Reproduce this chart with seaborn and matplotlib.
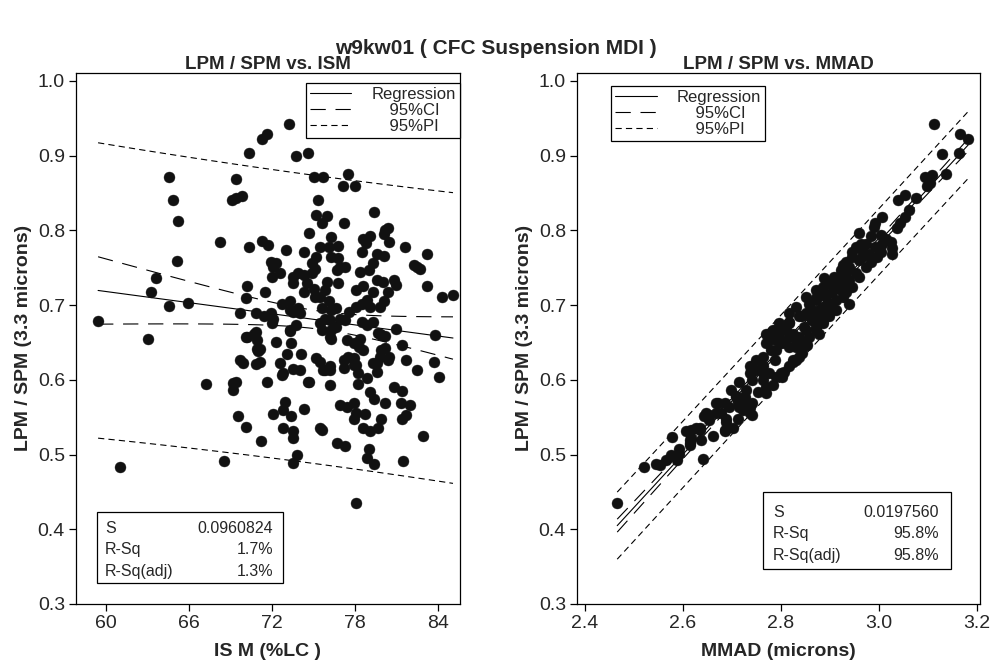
import numpy as np
import pandas as pd
import seaborn as sns
import matplotlib
matplotlib.use("Agg")
import matplotlib.pyplot as plt
from matplotlib.lines import Line2D
from matplotlib.patches import Rectangle

# left panel: ISM (%LC) vs LPM/SPM ratio
ism = [59.4, 61.0, 63.0, 63.2, 63.6, 64.5, 65.9, 65.1, 64.5, 64.8, 65.2, 67.2, 68.2, 68.5, 69.4, 69.1, 69.4, 69.8,
       70.3, 71.3, 71.6, 73.2, 73.7, 74.6, 75.0, 75.7, 77.5, 77.1, 78.0, 75.3, 75.2, 76.0, 75.6, 77.2, 79.4, 80.2,
       80.4, 80.1, 74.7, 76.3, 76.8, 70.3, 71.3, 71.7, 73.0, 74.3, 80.5, 78.6, 79.1, 78.5, 78.8, 81.6, 83.2, 82.5,
       82.7, 83.2, 84.3, 85.1, 83.8, 81.0, 81.4, 81.7, 83.7, 69.7, 70.1, 70.2, 70.8, 71.5, 70.2, 70.8, 70.9, 71.1,
       69.7, 69.9, 70.8, 71.4, 71.9, 72.0, 72.3, 72.7, 73.3, 73.3, 73.3, 73.7, 73.4, 73.1, 74.1, 72.6, 73.5, 75.2,
       75.5, 76.2, 78.4, 78.3, 79.8, 79.9, 79.9, 80.2, 79.8, 80.5, 79.3, 75.5, 76.1, 75.2, 74.9, 75.1, 76.3, 76.8,
       76.9, 77.3, 76.7, 79.6, 80.1, 79.3, 79.0, 78.4, 82.3, 79.6, 80.0, 80.8, 81.0, 80.4, 79.3, 78.1, 78.6, 76.8,
       76.0, 75.8, 75.5, 75.0, 75.1, 74.3, 74.5, 74.3, 73.5, 73.9, 73.5, 74.9, 71.9, 72.3, 72.0, 72.6, 73.9, 73.5,
       74.0, 75.6, 76.1, 76.3, 76.6, 75.8, 76.2, 76.9, 77.3, 77.6, 78.1, 78.5, 78.9, 79.1, 78.5, 78.9, 79.3, 79.7,
       80.2, 79.8, 80.1, 72.1, 75.5, 75.6, 76.3, 76.3, 76.6, 77.4, 73.3, 76.2, 77.9, 78.6, 72.8, 74.0, 74.7, 71.6,
       71.1, 75.8, 76.2, 76.2, 77.2, 77.2, 77.5, 77.9, 78.1, 78.2, 78.9, 78.2, 79.6, 79.6, 79.1, 79.4, 80.2, 80.8,
       81.4, 81.3, 82.0, 81.7, 81.4, 79.9, 79.7, 78.6, 79.1, 77.9, 78.1, 78.7, 76.9, 77.4, 77.9, 82.9, 72.9, 72.8,
       73.4, 72.1, 74.3, 72.8, 73.5, 73.5, 75.5, 75.6, 76.7, 77.3, 79.0, 78.9, 79.4, 81.5, 71.2, 73.8, 73.5, 78.1,
       82.5, 84.1, 70.1, 70.7, 70.9, 71.0, 69.2, 69.4, 69.2, 69.5, 70.1, 72.1, 72.7, 74.6, 75.7, 77.9, 80.4]
ratio_ism = [0.679, 0.483, 0.655, 0.717, 0.736, 0.699, 0.703, 0.759, 0.871, 0.841, 0.812, 0.595, 0.784, 0.492, 0.869,
             0.841, 0.843, 0.846, 0.903, 0.922, 0.929, 0.943, 0.900, 0.903, 0.872, 0.872, 0.876, 0.859, 0.859, 0.841,
             0.821, 0.819, 0.810, 0.810, 0.824, 0.800, 0.803, 0.795, 0.797, 0.791, 0.779, 0.778, 0.786, 0.781, 0.774,
             0.771, 0.784, 0.788, 0.792, 0.771, 0.783, 0.778, 0.769, 0.751, 0.749, 0.726, 0.711, 0.714, 0.660, 0.668,
             0.647, 0.627, 0.624, 0.690, 0.709, 0.726, 0.690, 0.717, 0.657, 0.664, 0.641, 0.641, 0.626, 0.623, 0.621,
             0.685, 0.690, 0.676, 0.650, 0.702, 0.705, 0.693, 0.667, 0.673, 0.649, 0.635, 0.634, 0.622, 0.615, 0.629,
             0.624, 0.618, 0.655, 0.644, 0.662, 0.660, 0.640, 0.642, 0.631, 0.631, 0.622, 0.778, 0.778, 0.765, 0.756,
             0.749, 0.765, 0.763, 0.751, 0.751, 0.747, 0.769, 0.766, 0.756, 0.747, 0.745, 0.754, 0.734, 0.731, 0.734,
             0.727, 0.717, 0.717, 0.720, 0.726, 0.729, 0.731, 0.720, 0.711, 0.722, 0.711, 0.740, 0.729, 0.718, 0.738,
             0.743, 0.729, 0.743, 0.758, 0.756, 0.738, 0.743, 0.696, 0.691, 0.689, 0.696, 0.705, 0.693, 0.696, 0.682,
             0.680, 0.682, 0.680, 0.691, 0.698, 0.702, 0.707, 0.698, 0.678, 0.673, 0.678, 0.663, 0.659, 0.698, 0.705,
             0.682, 0.676, 0.667, 0.667, 0.655, 0.671, 0.653, 0.665, 0.658, 0.649, 0.640, 0.609, 0.613, 0.597, 0.597,
             0.624, 0.613, 0.613, 0.593, 0.627, 0.616, 0.631, 0.629, 0.620, 0.609, 0.602, 0.595, 0.622, 0.611, 0.584,
             0.575, 0.569, 0.590, 0.585, 0.569, 0.566, 0.553, 0.547, 0.547, 0.535, 0.535, 0.531, 0.548, 0.555, 0.554,
             0.566, 0.563, 0.569, 0.525, 0.571, 0.560, 0.552, 0.554, 0.561, 0.535, 0.531, 0.522, 0.535, 0.533, 0.516,
             0.511, 0.508, 0.495, 0.487, 0.492, 0.518, 0.500, 0.489, 0.435, 0.613, 0.604, 0.658, 0.662, 0.653, 0.639,
             0.596, 0.597, 0.587, 0.552, 0.537, 0.751, 0.606, 0.597, 0.613, 0.620, 0.627]

# right panel: MMAD (microns) vs LPM/SPM ratio
mmad = [2.466, 2.520, 2.546, 2.553, 2.566, 2.576, 2.587, 2.578, 2.593, 2.607, 2.617, 2.614, 2.617, 2.634, 2.637,
        2.641, 2.644, 2.654, 2.661, 2.668, 2.678, 2.688, 2.685, 2.702, 2.698, 2.715, 2.709, 2.715, 2.729, 2.742,
        2.736, 2.712, 2.742, 2.753, 2.770, 2.736, 2.749, 2.763, 2.776, 2.790, 2.800, 2.783, 2.824, 2.614, 2.627,
        2.648, 2.671, 2.685, 2.688, 2.685, 2.726, 2.712, 2.722, 2.736, 2.770, 2.763, 2.807, 2.736, 2.749, 2.763,
        2.780, 2.787, 2.776, 2.790, 2.800, 2.810, 2.817, 2.817, 2.830, 2.844, 2.854, 2.858, 2.837, 2.824, 2.844,
        2.858, 2.871, 2.885, 2.888, 2.871, 2.885, 2.891, 2.878, 3.112, 3.166, 3.182, 3.129, 3.163, 3.137, 3.095,
        3.109, 3.098, 3.105, 3.039, 3.053, 3.075, 3.061, 3.054, 3.044, 3.037, 3.007, 2.993, 2.990, 2.960, 2.983,
        3.004, 3.014, 3.024, 3.027, 3.026, 3.007, 2.993, 2.973, 2.966, 2.953, 2.946, 2.939, 2.960, 2.980, 2.997,
        3.004, 2.926, 2.932, 2.919, 2.912, 2.926, 2.939, 2.953, 2.905, 2.892, 2.871, 2.885, 2.898, 2.912, 2.926,
        2.939, 2.932, 2.837, 2.851, 2.864, 2.878, 2.892, 2.905, 2.848, 2.817, 2.810, 2.824, 2.837, 2.851, 2.871,
        2.885, 2.770, 2.790, 2.803, 2.770,
        2.871, 2.885, 2.898, 2.909, 2.922, 2.932, 2.946, 2.963, 2.966, 2.983, 2.922, 2.946, 2.960, 2.973, 2.851,
        2.830, 2.817, 2.797, 2.783, 2.898, 2.912, 2.864, 2.797, 2.790, 2.817, 2.830, 2.851, 2.864, 2.878, 2.803,
        2.817, 2.830, 2.844, 2.763, 2.742, 2.729, 2.709, 2.695, 2.668, 2.654, 2.634, 2.614, 2.593]
ratio_mmad = [0.435, 0.483, 0.488, 0.486, 0.493, 0.499, 0.493, 0.523, 0.508, 0.532, 0.533, 0.513, 0.522, 0.535,
              0.519, 0.494, 0.551, 0.553, 0.525, 0.569, 0.555, 0.548, 0.533, 0.535, 0.587, 0.597, 0.577, 0.564,
              0.566, 0.553, 0.555, 0.548, 0.569, 0.584, 0.582, 0.609, 0.613, 0.618, 0.609, 0.604, 0.609, 0.593,
              0.627, 0.515, 0.535, 0.555, 0.569, 0.569, 0.544, 0.531, 0.577, 0.571, 0.560, 0.564, 0.591, 0.600,
              0.611, 0.618, 0.627, 0.631, 0.640, 0.627, 0.653, 0.660, 0.667, 0.673, 0.678, 0.658, 0.644, 0.649,
              0.647, 0.658, 0.631, 0.624, 0.685, 0.702, 0.709, 0.716, 0.736, 0.671, 0.680, 0.689, 0.662, 0.943,
              0.929, 0.922, 0.902, 0.903, 0.876, 0.872, 0.874, 0.859, 0.863, 0.841, 0.847, 0.843, 0.827, 0.818,
              0.810, 0.803, 0.818, 0.810, 0.805, 0.797, 0.792, 0.794, 0.789, 0.785, 0.776, 0.768, 0.782, 0.778,
              0.782, 0.774, 0.778, 0.765, 0.751, 0.760, 0.769, 0.765, 0.771, 0.754, 0.743, 0.738, 0.729, 0.729,
              0.734, 0.743, 0.718, 0.711, 0.707, 0.698, 0.702, 0.707, 0.711, 0.702, 0.718, 0.685, 0.689, 0.680,
              0.685, 0.689, 0.693, 0.671, 0.676, 0.667, 0.662, 0.658, 0.649, 0.667, 0.676, 0.662, 0.653, 0.649,
              0.649,
              0.720, 0.724, 0.729, 0.738, 0.747, 0.758, 0.771, 0.782, 0.765, 0.758, 0.720, 0.724, 0.738, 0.751,
              0.711, 0.698, 0.689, 0.676, 0.667, 0.685, 0.693, 0.693, 0.658, 0.640, 0.644, 0.653, 0.667, 0.680,
              0.693, 0.604, 0.618, 0.627, 0.636, 0.609, 0.600, 0.587, 0.578, 0.564, 0.555, 0.546, 0.533, 0.519,
              0.501]

stats_ism = [("S", "0.0960824"), ("R-Sq", "1.7%"), ("R-Sq(adj)", "1.3%")]
stats_mmad = [("S", "0.0197560"), ("R-Sq", "95.8%"), ("R-Sq(adj)", "95.8%")]

sns.set_theme(style="ticks")
plt.rcParams["font.family"] = ["Liberation Sans", "DejaVu Sans"]
plt.rcParams["lines.scale_dashes"] = False

CI_LS = (0, (11, 7))
PI_LS = (0, (4.5, 3))


def fit_bands(x, y, grid, t=1.97):
    x = np.asarray(x)
    y = np.asarray(y)
    n = len(x)
    b, a = np.polyfit(x, y, 1)
    resid = y - (a + b * x)
    s = np.sqrt(np.sum(resid ** 2) / (n - 2))
    sxx = np.sum((x - x.mean()) ** 2)
    yhat = a + b * grid
    se_fit = s * np.sqrt(1 / n + (grid - x.mean()) ** 2 / sxx)
    se_pred = s * np.sqrt(1 + 1 / n + (grid - x.mean()) ** 2 / sxx)
    return yhat, yhat - t * se_fit, yhat + t * se_fit, yhat - t * se_pred, yhat + t * se_pred


def draw_panel(ax, x, y, xlabel, title, stats, leg_anchor, leg_loc, box, rows, lab_x, val_x):
    df = pd.DataFrame({"x": x, "y": y})
    sns.scatterplot(data=df, x="x", y="y", ax=ax, color="#111111", s=62, edgecolor="#111111",
                    linewidth=0.3, zorder=3)
    grid = np.linspace(min(x), max(x), 60)
    yhat, clo, chi, plo, phi = fit_bands(x, y, grid)
    ax.plot(grid, yhat, color="black", lw=0.8, zorder=2)
    ax.plot(grid, clo, color="black", lw=0.8, ls=CI_LS, zorder=2)
    ax.plot(grid, chi, color="black", lw=0.8, ls=CI_LS, zorder=2)
    ax.plot(grid, plo, color="black", lw=0.8, ls=PI_LS, zorder=2)
    ax.plot(grid, phi, color="black", lw=0.8, ls=PI_LS, zorder=2)

    handles = [Line2D([], [], color="black", lw=0.8),
               Line2D([], [], color="black", lw=0.8, ls=CI_LS),
               Line2D([], [], color="black", lw=0.8, ls=PI_LS)]
    leg = ax.legend(handles, ["Regression", "    95%CI", "    95%PI"], loc=leg_loc,
                    bbox_to_anchor=leg_anchor, fontsize=12, frameon=True, fancybox=False,
                    edgecolor="black", framealpha=1, borderaxespad=0, handlelength=2.5,
                    labelspacing=0.05, borderpad=0.25, handletextpad=1.2)
    leg.get_frame().set_linewidth(0.9)

    x0, y0, x1, y1 = box
    ax.add_patch(Rectangle((x0, y0), x1 - x0, y1 - y0, transform=ax.transAxes, fill=False,
                           edgecolor="black", lw=0.9, zorder=4))
    for (lab, val), ry in zip(stats, rows):
        ax.text(lab_x, ry, lab, transform=ax.transAxes, fontsize=11.5, va="center", ha="left")
        ax.text(val_x, ry, val, transform=ax.transAxes, fontsize=11.5, va="center", ha="right")

    ax.set_ylim(0.3, 1.011)
    ax.set_yticks([0.3, 0.4, 0.5, 0.6, 0.7, 0.8, 0.9, 1.0])
    ax.set_xlabel(xlabel, fontsize=14, fontweight="bold", labelpad=8)
    ax.set_ylabel("LPM / SPM (3.3 microns)", fontsize=14, fontweight="bold", labelpad=4)
    ax.set_title(title, fontsize=13.5, fontweight="bold", pad=2)
    ax.tick_params(labelsize=14, length=5, width=0.9, color="black", pad=3)
    for sp in ax.spines.values():
        sp.set_visible(True)
        sp.set_linewidth(0.9)
        sp.set_color("black")


fig = plt.figure(figsize=(9.92, 6.64), dpi=100)
ax1 = fig.add_axes([0.0766, 0.0904, 0.387, 0.80])
ax2 = fig.add_axes([0.5817, 0.0904, 0.406, 0.80])

draw_panel(ax1, ism, ratio_ism, "IS M (%LC )", "LPM / SPM vs. ISM", stats_ism,
           (1.0, 0.981), "upper right", (0.055, 0.04, 0.539, 0.173), [0.143, 0.102, 0.062], 0.076, 0.513)
ax1.set_xlim(57.8, 85.6)
ax1.set_xticks([60, 66, 72, 78, 84])

draw_panel(ax2, mmad, ratio_mmad, "MMAD (microns)", "LPM / SPM vs. MMAD", stats_mmad,
           (0.084, 0.975), "upper left", (0.4615, 0.066, 0.928, 0.211), [0.173, 0.132, 0.092], 0.486, 0.898)
ax2.set_xlim(2.384, 3.206)
ax2.set_xticks([2.4, 2.6, 2.8, 3.0, 3.2])
ax2.set_xticklabels(["2.4", "2.6", "2.8", "3.0", "3.2"])

fig.suptitle("w9kw01 ( CFC Suspension MDI )", y=0.942, fontsize=15, fontweight="bold")

fig.savefig("out.png", dpi=100)
